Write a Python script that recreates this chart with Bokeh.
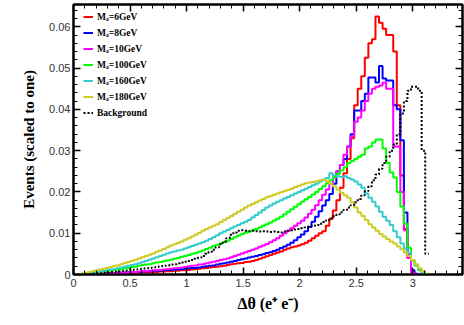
import numpy as np
from bokeh.plotting import figure
from bokeh.models import (Range1d, SingleIntervalTicker, LinearAxis,
                          CustomJSTickFormatter, Legend, LegendItem)
from bokeh.embed import file_html
from bokeh.resources import INLINE

# ---------------- data (100 bins from 0 to pi, scaled to one) ----------------
n_bins = 100
hist_min = 0.0
hist_max = np.pi

labels = ["Mₐ=6GeV", "Mₐ=8GeV", "Mₐ=10GeV", "Mₐ=100GeV", "Mₐ=160GeV", "Mₐ=180GeV", "Background"]

ma6 = [0, 0, 0, 0.0001, 0.0001, 0.0001, 0.0001, 0.0002, 0.0002, 0.0002,
       0.0002, 0.0003, 0.0003, 0.0003, 0.0003, 0.0004, 0.0004, 0.0004, 0.0005, 0.0005,
       0.0005, 0.0006, 0.0006, 0.0006, 0.0007, 0.0007, 0.0008, 0.0008, 0.0009, 0.0009,
       0.001, 0.001, 0.0011, 0.0012, 0.0013, 0.0014, 0.0015, 0.0016, 0.0017, 0.0018,
       0.0019, 0.002, 0.0021, 0.0023, 0.0025, 0.0026, 0.0027, 0.0028, 0.003, 0.0031,
       0.0033, 0.0035, 0.0038, 0.0041, 0.0044, 0.0047, 0.005, 0.0053, 0.0056, 0.006,
       0.0063, 0.0066, 0.0068, 0.007, 0.0073, 0.0077, 0.0082, 0.0088, 0.0094, 0.01,
       0.0105, 0.0118, 0.0135, 0.0155, 0.018, 0.021, 0.0245, 0.028, 0.033, 0.041,
       0.045, 0.048, 0.0525, 0.056, 0.057, 0.0625, 0.061, 0.0595, 0.058, 0.058,
       0.054, 0.041, 0.024, 0.011, 0.004, 0.0006, 0, 0, 0, 0]

ma8 = [0, 0, 0, 0.0001, 0.0001, 0.0001, 0.0002, 0.0002, 0.0002, 0.0003,
       0.0003, 0.0003, 0.0004, 0.0004, 0.0005, 0.0005, 0.0005, 0.0006, 0.0006, 0.0007,
       0.0007, 0.0008, 0.0008, 0.0009, 0.0009, 0.001, 0.0011, 0.0011, 0.0012, 0.0013,
       0.0013, 0.0014, 0.0015, 0.0016, 0.0016, 0.0017, 0.0019, 0.002, 0.0021, 0.0022,
       0.0024, 0.0026, 0.0027, 0.0029, 0.0031, 0.0033, 0.0035, 0.0037, 0.0039, 0.0041,
       0.0043, 0.0045, 0.0047, 0.0049, 0.0052, 0.0054, 0.0057, 0.006, 0.0064, 0.0068,
       0.0072, 0.0077, 0.0083, 0.009, 0.0097, 0.0105, 0.0115, 0.0128, 0.014, 0.0153,
       0.0167, 0.018, 0.0195, 0.022, 0.025, 0.0265, 0.028, 0.031, 0.034, 0.0397,
       0.0397, 0.042, 0.0438, 0.0477, 0.0477, 0.0465, 0.0505, 0.0475, 0.047, 0.047,
       0.041, 0.04, 0.0325, 0.015, 0.005, 0.001, 0.0002, 0, 0, 0]

ma10 = [0, 0, 0, 0.0001, 0.0001, 0.0001, 0.0002, 0.0002, 0.0002, 0.0003,
        0.0003, 0.0003, 0.0004, 0.0004, 0.0005, 0.0005, 0.0006, 0.0006, 0.0007, 0.0008,
        0.0008, 0.0009, 0.001, 0.001, 0.0011, 0.0012, 0.0013, 0.0014, 0.0015, 0.0016,
        0.0017, 0.0018, 0.002, 0.0021, 0.0022, 0.0024, 0.0025, 0.0027, 0.0029, 0.0031,
        0.0033, 0.0035, 0.0037, 0.0039, 0.0042, 0.0045, 0.0048, 0.0051, 0.0054, 0.0057,
        0.006, 0.0063, 0.0067, 0.007, 0.0074, 0.0078, 0.0083, 0.0088, 0.0094, 0.01,
        0.0106, 0.0112, 0.0118, 0.0124, 0.013, 0.0138, 0.0147, 0.0157, 0.0168, 0.018,
        0.0193, 0.0206, 0.022, 0.0235, 0.025, 0.0265, 0.029, 0.031, 0.0335, 0.037,
        0.038, 0.0397, 0.042, 0.0438, 0.045, 0.0455, 0.0458, 0.0465, 0.045, 0.045,
        0.031, 0.031, 0.02, 0.0107, 0.004, 0.0005, 0, 0, 0, 0]

ma100 = [0, 0, 0.0001, 0.0002, 0.0003, 0.0004, 0.0005, 0.0006, 0.0007, 0.0008,
         0.0009, 0.001, 0.0012, 0.0013, 0.0015, 0.0016, 0.0018, 0.0019, 0.0021, 0.0023,
         0.0024, 0.0025, 0.0027, 0.0029, 0.003, 0.0032, 0.0034, 0.0036, 0.0038, 0.004,
         0.0043, 0.0045, 0.0047, 0.005, 0.0052, 0.0055, 0.0058, 0.0062, 0.0065, 0.0069,
         0.0072, 0.0075, 0.0078, 0.0082, 0.0086, 0.009, 0.0094, 0.0098, 0.0101, 0.0104,
         0.0107, 0.011, 0.0114, 0.0118, 0.0122, 0.0126, 0.013, 0.0135, 0.014, 0.0146,
         0.0152, 0.0158, 0.0164, 0.017, 0.0176, 0.0182, 0.0188, 0.0194, 0.02, 0.0207,
         0.0214, 0.0221, 0.0228, 0.0236, 0.0244, 0.0252, 0.026, 0.027, 0.0275, 0.028,
         0.0285, 0.029, 0.0305, 0.031, 0.032, 0.0327, 0.0327, 0.0305, 0.027, 0.0247,
         0.0235, 0.02, 0.0165, 0.0123, 0.0065, 0.0034, 0.0022, 0.001, 0.0003, 0]

ma160 = [0, 0.0001, 0.0002, 0.0003, 0.0004, 0.0005, 0.0006, 0.0008, 0.0009, 0.001,
         0.0012, 0.0013, 0.0015, 0.0017, 0.0019, 0.0021, 0.0023, 0.0025, 0.0027, 0.003,
         0.0033, 0.0036, 0.0039, 0.0042, 0.0045, 0.0048, 0.0051, 0.0054, 0.0056, 0.0058,
         0.006, 0.0063, 0.0066, 0.0069, 0.0072, 0.0075, 0.0078, 0.0082, 0.0086, 0.009,
         0.0095, 0.01, 0.0104, 0.0108, 0.0112, 0.0116, 0.012, 0.0124, 0.0128, 0.0132,
         0.0138, 0.0144, 0.015, 0.0156, 0.0162, 0.0167, 0.0172, 0.0176, 0.018, 0.0184,
         0.0188, 0.0192, 0.0196, 0.02, 0.0204, 0.0208, 0.0212, 0.0216, 0.022, 0.0225,
         0.023, 0.0234, 0.0245, 0.024, 0.0238, 0.0236, 0.0238, 0.0234, 0.023, 0.0225,
         0.0218, 0.021, 0.0196, 0.0186, 0.0176, 0.0165, 0.0152, 0.014, 0.013, 0.012,
         0.0105, 0.009, 0.0075, 0.0063, 0.0052, 0.0035, 0.0022, 0.0012, 0.0004, 0]

ma180 = [0, 0.0001, 0.0002, 0.0004, 0.0006, 0.0008, 0.001, 0.0012, 0.0014, 0.0016,
         0.0018, 0.002, 0.0022, 0.0025, 0.0028, 0.003, 0.0033, 0.0036, 0.0039, 0.0042,
         0.0045, 0.0048, 0.0051, 0.0055, 0.0058, 0.0062, 0.0066, 0.007, 0.0073, 0.0076,
         0.008, 0.0084, 0.0088, 0.0092, 0.0096, 0.0101, 0.0106, 0.011, 0.0114, 0.0118,
         0.0122, 0.0127, 0.0132, 0.0137, 0.0142, 0.0147, 0.0152, 0.0157, 0.0162, 0.0167,
         0.0171, 0.0175, 0.0179, 0.0183, 0.0187, 0.019, 0.0193, 0.0196, 0.0199, 0.0202,
         0.0205, 0.0208, 0.0212, 0.0215, 0.0218, 0.0221, 0.0223, 0.0224, 0.0226, 0.0228,
         0.0229, 0.0226, 0.022, 0.0213, 0.0205, 0.0198, 0.0192, 0.0186, 0.0175, 0.0162,
         0.015, 0.0142, 0.0132, 0.0122, 0.0114, 0.0106, 0.0098, 0.0092, 0.0086, 0.008,
         0.0075, 0.0068, 0.0061, 0.0053, 0.0045, 0.0035, 0.0025, 0.0015, 0.0008, 0.0002]

background = [0, 0, 0, 0.0001, 0.0001, 0.0002, 0.0003, 0.0003, 0.0004, 0.0005,
              0.0006, 0.0006, 0.0007, 0.0008, 0.0009, 0.001, 0.0011, 0.0012, 0.0013, 0.0014,
              0.0015, 0.0016, 0.0017, 0.0018, 0.002, 0.0021, 0.0022, 0.0024, 0.0025, 0.0027,
              0.0029, 0.0031, 0.0033, 0.0035, 0.0038, 0.0041, 0.0045, 0.005, 0.0055, 0.006,
              0.0066, 0.0073, 0.008, 0.0088, 0.0096, 0.0102, 0.0106, 0.0107, 0.0106, 0.0105,
              0.0106, 0.0105, 0.0104, 0.0105, 0.0104, 0.0103, 0.0104, 0.0103, 0.0102, 0.0104,
              0.0106, 0.0107, 0.0109, 0.011, 0.0112, 0.0114, 0.0116, 0.0118, 0.012, 0.0123,
              0.0127, 0.0131, 0.0136, 0.0141, 0.0146, 0.0151, 0.0156, 0.0162, 0.0168, 0.0175,
              0.0183, 0.0192, 0.0202, 0.0214, 0.0228, 0.0242, 0.0256, 0.027, 0.0285, 0.03,
              0.0315, 0.034, 0.039, 0.042, 0.0445, 0.0455, 0.0455, 0.0445, 0.030, 0.005]

series = [ma6, ma8, ma10, ma100, ma160, ma180, background]
colors = ["#ff0000", "#0000ff", "#ff00ff", "#00ff00", "#33cccc", "#cccc22", "#000000"]
dashes = ["solid", "solid", "solid", "solid", "solid", "solid", "2 2"]

x_ticks_major = 0.5
y_ticks_major = 0.01

# ---------------- figure ----------------
edges = np.linspace(hist_min, hist_max, n_bins + 1)

p = figure(width=464, height=325, output_backend="svg", toolbar_location=None,
           x_range=Range1d(0, 3.44), y_range=Range1d(0, 0.0654),
           min_border_left=73, min_border_right=2, min_border_top=4,
           min_border_bottom=51)
p.grid.visible = False
p.outline_line_color = "black"
p.outline_line_width = 2
p.background_fill_color = "white"
p.border_fill_color = "white"

renderers = []
for vals, c, d in zip(series, colors, dashes):
    yy = list(vals) + [vals[-1]]
    r = p.step(x=edges, y=yy, mode="after", line_color=c, line_width=2, line_dash=d)
    renderers.append(r)

tick_font = "Liberation Sans"


def style_axis(ax, interval, show_labels):
    ax.ticker = SingleIntervalTicker(interval=interval, num_minor_ticks=5)
    ax.axis_line_color = "black"
    ax.axis_line_width = 2
    ax.major_tick_in = 7
    ax.major_tick_out = 0
    ax.minor_tick_in = 4
    ax.minor_tick_out = 0
    ax.major_tick_line_color = "black"
    ax.minor_tick_line_color = "black"
    ax.major_tick_line_width = 1.5
    ax.minor_tick_line_width = 1
    if show_labels:
        ax.major_label_text_font = tick_font
        ax.major_label_text_font_size = "11px"
        ax.major_label_text_color = "#333333"
    else:
        ax.major_label_text_font_size = "0px"
        ax.major_label_standoff = 0
        ax.major_label_text_alpha = 0


xax = p.xaxis[0]
style_axis(xax, x_ticks_major, True)
xax.formatter = CustomJSTickFormatter(code="return String(Math.round(tick*10)/10);")
xax.major_label_standoff = 4
xax.axis_label = "Δθ (e⁺ e⁻)"
xax.axis_label_text_font = "Liberation Serif"
xax.axis_label_text_font_style = "bold"
xax.axis_label_text_font_size = "16px"
xax.axis_label_text_color = "black"
xax.axis_label_standoff = 5

yax = p.yaxis[0]
style_axis(yax, y_ticks_major, True)
yax.formatter = CustomJSTickFormatter(code="return tick == 0 ? '0' : tick.toFixed(2);")
yax.major_label_standoff = 3
yax.axis_label = "Events (scaled to one)"
yax.axis_label_text_font = "Liberation Serif"
yax.axis_label_text_font_style = "bold"
yax.axis_label_text_font_size = "15px"
yax.axis_label_text_color = "black"
yax.axis_label_standoff = 9

top_ax = LinearAxis()
style_axis(top_ax, x_ticks_major, False)
p.add_layout(top_ax, "above")

right_ax = LinearAxis()
style_axis(right_ax, y_ticks_major, False)
p.add_layout(right_ax, "right")

items = [LegendItem(label=l, renderers=[r]) for l, r in zip(labels, renderers)]
legend = Legend(items=items, location=(10, 154), padding=0, margin=0, spacing=1,
                glyph_width=10, glyph_height=15, label_height=15, label_standoff=4,
                border_line_color=None, background_fill_alpha=0,
                label_text_font="Liberation Serif", label_text_font_style="bold",
                label_text_font_size="9.5px", label_text_color="black")
p.add_layout(legend)

open("out.html", "w").write(file_html(p, INLINE))
